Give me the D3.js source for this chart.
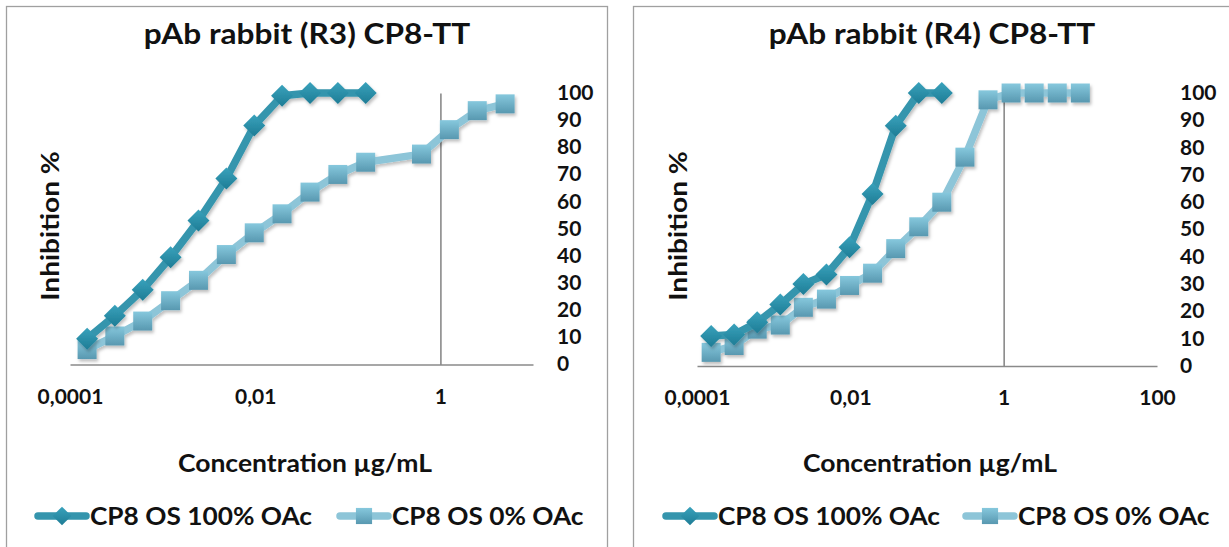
<!DOCTYPE html>
<html>
<head>
<meta charset="utf-8">
<script src="https://cdn.jsdelivr.net/npm/d3@7/dist/d3.min.js"></script>
<style>
  html, body { margin: 0; padding: 0; background: #ffffff; }
  svg { display: block; }
  text { font-family: Lato, "Open Sans", sans-serif; font-weight: bold; fill: #111; }
</style>
</head>
<body>
<svg id="chart" width="1229" height="547"></svg>
<script>
// Two-fold dilution series (µg/mL)
const concR3_100 = [0.000153, 0.000305, 0.00061, 0.00122, 0.00244, 0.00488, 0.00977, 0.0195, 0.0391, 0.0781, 0.156];
const inhR3_100  = [9.5, 18, 27.5, 39.5, 53, 68.5, 88, 99, 100, 100, 100];
const concR3_0   = [0.000153, 0.000305, 0.00061, 0.00122, 0.00244, 0.00488, 0.00977, 0.0195, 0.0391, 0.0781, 0.156, 0.625, 1.25, 2.5, 5];
const inhR3_0    = [5.5, 10.5, 16, 23.5, 31, 40.5, 48.5, 55.5, 63.5, 70, 74.5, 77.5, 86.5, 93.5, 96];

const concR4_100 = [0.000153, 0.000305, 0.00061, 0.00122, 0.00244, 0.00488, 0.00977, 0.0195, 0.0391, 0.0781, 0.156];
const inhR4_100  = [11, 11.5, 16, 22.5, 30, 33.5, 43.5, 63, 88, 100, 100];
const concR4_0   = [0.000153, 0.000305, 0.00061, 0.00122, 0.00244, 0.00488, 0.00977, 0.0195, 0.0391, 0.0781, 0.156, 0.3125, 0.625, 1.25, 2.5, 5, 10];
const inhR4_0    = [5, 7.5, 13.5, 15, 21.5, 24.5, 29.5, 34, 43, 51, 60, 76.5, 97.5, 100, 100, 100, 100];

const titles = ["pAb rabbit (R3) CP8-TT", "pAb rabbit (R4) CP8-TT"];
const seriesNames = ["CP8 OS 100% OAc", "CP8 OS 0% OAc"];
const yTickValues = [0, 10, 20, 30, 40, 50, 60, 70, 80, 90, 100];
const xTicksR3 = [0.0001, 0.01, 1];
const xTicksR4 = [0.0001, 0.01, 1, 100];
const xTickLabels = { 0.0001: "0,0001", 0.01: "0,01", 1: "1", 100: "100" };

const svg = d3.select("#chart");
const defs = svg.append("defs");

const gDia = defs.append("linearGradient").attr("id", "gradDia").attr("x1", 0).attr("y1", 0).attr("x2", 0).attr("y2", 1);
gDia.append("stop").attr("offset", "0%").attr("stop-color", "#39a2bc");
gDia.append("stop").attr("offset", "100%").attr("stop-color", "#1e7c95");
const gSq = defs.append("linearGradient").attr("id", "gradSq").attr("x1", 0).attr("y1", 0).attr("x2", 0).attr("y2", 1);
gSq.append("stop").attr("offset", "0%").attr("stop-color", "#86c8dd");
gSq.append("stop").attr("offset", "100%").attr("stop-color", "#5898b0");

const shadow = defs.append("filter").attr("id", "shadow")
  .attr("x", "-30%").attr("y", "-30%").attr("width", "160%").attr("height", "160%");
shadow.append("feDropShadow").attr("dx", 1.5).attr("dy", 2.5).attr("stdDeviation", 1.6)
  .attr("flood-color", "#000").attr("flood-opacity", 0.25);

const darkLine = "#3595ad";
const lightLine = "#8dc5d8";

const diamondPath = "M0,-11L11,0L0,11L-11,0Z";
const squarePath = "M-9.5,-9.5H9.5V9.5H-9.5Z";

function stretch(sel, k) {
  sel.each(function () {
    const L = this.getComputedTextLength();
    this.setAttribute("textLength", L * k);
    this.setAttribute("lengthAdjust", "spacingAndGlyphs");
  });
}

function drawPanel(cfg) {
  const g = svg.append("g");

  // panel frame
  g.append("rect")
    .attr("x", cfg.frame[0]).attr("y", cfg.frame[1])
    .attr("width", cfg.frame[2]).attr("height", cfg.frame[3])
    .attr("fill", "#fff").attr("stroke", "#a0a0a0").attr("stroke-width", 1.3);

  const x = d3.scaleLog().domain(cfg.xDomain).range(cfg.xRange);
  const y = d3.scaleLinear().domain([0, 100]).range(cfg.yRange);

  // horizontal axis
  const xAxis = d3.axisBottom(x)
    .tickValues(cfg.xTicks)
    .tickFormat(d => xTickLabels[d])
    .tickSize(0).tickSizeOuter(0).tickPadding(25);
  const gx = g.append("g").attr("transform", `translate(0,${y(0)})`).call(xAxis);
  gx.select(".domain").attr("stroke", "#8a8a8a").attr("stroke-width", 1.6);
  gx.selectAll("text").attr("font-size", 20).attr("fill", "#111")
    .style("font-family", "Lato, sans-serif").style("font-weight", "bold");
  stretch(gx.selectAll("text"), 1.05);

  // vertical axis crossing at 1
  const vAxis = d3.axisLeft(y).tickValues([]).tickSizeOuter(0);
  const gv = g.append("g").attr("transform", `translate(${x(1)},0)`).call(vAxis);
  gv.select(".domain").attr("stroke", "#8a8a8a").attr("stroke-width", 1.6);

  // value labels on the right
  const yAxis = d3.axisRight(y).tickValues(yTickValues).tickSize(0).tickPadding(0);
  const gy = g.append("g").attr("transform", `translate(${cfg.yLabelX},0)`).call(yAxis);
  gy.select(".domain").remove();
  gy.selectAll("text").attr("font-size", 20).attr("fill", "#111")
    .style("font-family", "Lato, sans-serif").style("font-weight", "bold");
  stretch(gy.selectAll("text"), 1.05);

  // title
  const t = g.append("text").attr("x", cfg.titleX).attr("y", 44)
    .attr("text-anchor", "middle").attr("font-size", 29).text(cfg.title);
  stretch(t, 1.09);

  // axis titles
  const yt = g.append("text")
    .attr("transform", `translate(${cfg.yTitleX},${cfg.yTitleY}) rotate(-90)`)
    .attr("text-anchor", "middle").attr("font-size", 25).text("Inhibition %");
  stretch(yt, 1.12);
  const xt = g.append("text").attr("x", cfg.xTitleX).attr("y", 472)
    .attr("text-anchor", "middle").attr("font-size", 25).text("Concentration  µg/mL");
  stretch(xt, 1.06);

  const line = d3.line().x(d => x(d[0])).y(d => y(d[1]));

  const series = [
    { conc: cfg.conc0, inh: cfg.inh0, color: lightLine, path: squarePath, fill: "url(#gradSq)" },
    { conc: cfg.conc100, inh: cfg.inh100, color: darkLine, path: diamondPath, fill: "url(#gradDia)" }
  ];
  series.forEach(s => {
    const pts = s.conc.map((c, i) => [c, s.inh[i]]);
    const sg = g.append("g").attr("filter", "url(#shadow)");
    sg.append("path").datum(pts).attr("d", line)
      .attr("fill", "none").attr("stroke", s.color).attr("stroke-width", 7.5)
      .attr("stroke-linejoin", "round").attr("stroke-linecap", "round");
    sg.selectAll(".mk").data(pts).enter().append("path")
      .attr("d", s.path)
      .attr("transform", d => `translate(${x(d[0])},${y(d[1])})`)
      .attr("fill", s.fill);
  });

  // legend
  const leg = [
    { x0: cfg.legend[0], color: darkLine, path: diamondPath, fill: "url(#gradDia)", name: seriesNames[0] },
    { x0: cfg.legend[1], color: lightLine, path: squarePath, fill: "url(#gradSq)", name: seriesNames[1] }
  ];
  leg.forEach(l => {
    const lg = g.append("g");
    lg.append("line").attr("x1", l.x0 + 3).attr("x2", l.x0 + 51).attr("y1", 516).attr("y2", 516)
      .attr("stroke", l.color).attr("stroke-width", 7.5).attr("stroke-linecap", "round");
    lg.append("path").attr("d", l.path).attr("transform", `translate(${l.x0 + 27},516) scale(0.85)`)
      .attr("fill", l.fill);
    const lt = lg.append("text").attr("x", l.x0 + 55).attr("y", 525).attr("font-size", 25).text(l.name);
    stretch(lt, 1.05);
  });
}

drawPanel({
  frame: [6.5, 6.5, 601, 600],
  xDomain: [0.0001, 10], xRange: [70, 533], yRange: [364.5, 93],
  xTicks: xTicksR3, yLabelX: 557,
  title: titles[0], titleX: 307,
  yTitleX: 59, yTitleY: 226, xTitleX: 305,
  conc100: concR3_100, inh100: inhR3_100, conc0: concR3_0, inh0: inhR3_0,
  legend: [35, 337]
});

drawPanel({
  frame: [633.5, 6.5, 700, 600],
  xDomain: [0.0001, 100], xRange: [697, 1157], yRange: [366, 93],
  xTicks: xTicksR4, yLabelX: 1180,
  title: titles[1], titleX: 932,
  yTitleX: 687, yTitleY: 226, xTitleX: 930,
  conc100: concR4_100, inh100: inhR4_100, conc0: concR4_0, inh0: inhR4_0,
  legend: [663, 963]
});
</script>
</body>
</html>
